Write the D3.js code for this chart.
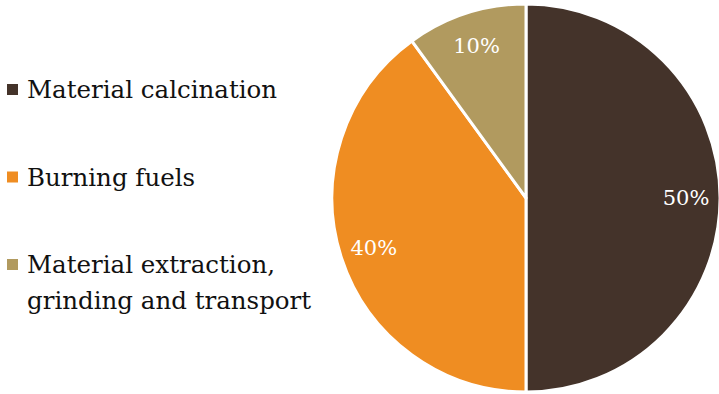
<!DOCTYPE html>
<html lang="en">
<head>
<meta charset="UTF-8">
<title>Cement emissions</title>
<script src="https://cdn.jsdelivr.net/npm/d3@7"></script>
<style>
body { margin: 0; background: #fff; }
text { font-family: "DejaVu Serif", serif; }
.legend text { font-size: 24.5px; fill: #111; }
.label { font-size: 21px; fill: #fff; text-anchor: middle; }
</style>
</head>
<body>
<svg width="719" height="394"></svg>
<script>
var categories = ["Material calcination", "Burning fuels", "Material extraction,\ngrinding and transport"];
var values = [50, 40, 10];
var colors = ["#44332a", "#ef8d22", "#b19a5f"];

var svg = d3.select("svg");
var cx = 526, cy = 198, r = 194;

var pie = d3.pie().sort(null).value(function(d) { return d; });
var arc = d3.arc().innerRadius(0).outerRadius(r);
var labelArc = d3.arc().innerRadius(160).outerRadius(160);

var g = svg.append("g").attr("transform", "translate(" + cx + "," + cy + ")");
var slices = g.selectAll("g.slice").data(pie(values)).enter().append("g").attr("class", "slice");
slices.append("path")
    .attr("d", arc)
    .attr("fill", function(d, i) { return colors[i]; })
    .attr("stroke", "#fff")
    .attr("stroke-width", 3)
    .attr("stroke-linejoin", "round");
slices.append("text")
    .attr("class", "label")
    .attr("transform", function(d) { return "translate(" + labelArc.centroid(d) + ")"; })
    .attr("dy", "0.35em")
    .text(function(d) { return d.data + "%"; });

// legend
var legendY = d3.scalePoint().domain(d3.range(categories.length)).range([98, 273]);
var leg = svg.append("g").attr("class", "legend")
    .selectAll("g").data(categories).enter().append("g")
    .attr("transform", function(d, i) { return "translate(0," + legendY(i) + ")"; });
leg.append("rect")
    .attr("x", 7).attr("y", -14).attr("width", 11).attr("height", 11)
    .attr("fill", function(d, i) { return colors[i]; });
leg.append("text")
    .attr("x", 27)
    .selectAll("tspan").data(function(d) { return d.split("\n"); }).enter().append("tspan")
    .attr("x", 27)
    .attr("dy", function(d, i) { return i ? 36 : 0; })
    .text(function(d) { return d; });
</script>
</body>
</html>
